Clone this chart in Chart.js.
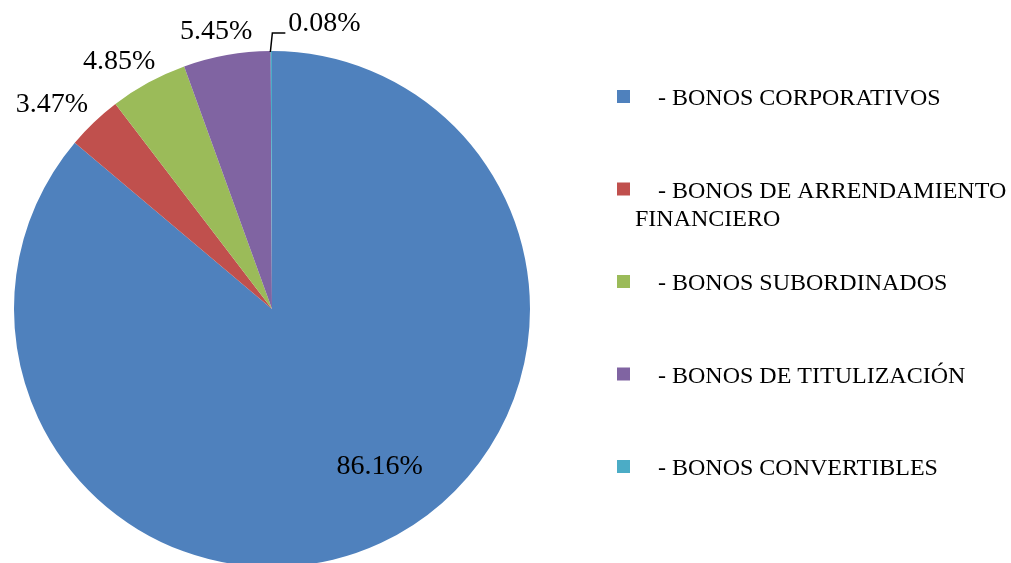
<!DOCTYPE html>
<html lang="es">
<head>
    <meta charset="UTF-8">
    <title>Bonos</title>
    <style>
        html, body { margin: 0; padding: 0; background: #fff; overflow: hidden; }
        #wrap { width: 1011px; height: 563px; overflow: hidden; }
    </style>
</head>
<body>
    <div id="wrap">
        <canvas id="myChart" width="1011" height="580"></canvas>
    </div>
    <script src="https://cdn.jsdelivr.net/npm/chart.js@4/dist/chart.umd.min.js"></script>
    <script>

        // datos (porcentaje de cada tipo de bono)
        const categories = [
            '- BONOS CORPORATIVOS',
            '- BONOS DE ARRENDAMIENTO FINANCIERO',
            '- BONOS SUBORDINADOS',
            '- BONOS DE TITULIZACIÓN',
            '- BONOS CONVERTIBLES'
        ];
        const values = [86.16, 3.47, 4.85, 5.45, 0.08];
        const colors = ['#4F81BD', '#C0504D', '#9BBB59', '#8064A2', '#4BACC6'];

        const SERIF = '"Liberation Serif", "Times New Roman", serif';

        // etiquetas de porcentaje
        const pieLabels = {
            id: 'pieLabels',
            afterDatasetsDraw(chart) {
                const ctx = chart.ctx;
                const meta = chart.getDatasetMeta(0);
                const total = values.reduce((a, b) => a + b, 0);
                ctx.save();
                ctx.font = '28px ' + SERIF;
                ctx.fillStyle = '#000';
                ctx.strokeStyle = '#000';
                ctx.lineWidth = 1.5;
                meta.data.forEach((arc, i) => {
                    const txt = values[i].toFixed(2) + '%';
                    const frac = values[i] / total;
                    const r = arc.outerRadius;
                    let mid = (arc.startAngle + arc.endAngle) / 2;
                    const w = ctx.measureText(txt).width;
                    if (frac > 0.5) {
                        mid -= 9.4 * Math.PI / 180;
                        ctx.textAlign = 'center';
                        ctx.textBaseline = 'middle';
                        ctx.fillText(txt, arc.x + Math.cos(mid) * r * 0.74, arc.y + Math.sin(mid) * r * 0.74);
                    } else if (frac < 0.01) {
                        // linea guia para el sector muy pequeno
                        const px = arc.x + Math.cos(mid) * r;
                        const py = arc.y + Math.sin(mid) * r;
                        ctx.beginPath();
                        ctx.moveTo(px - 1, py + 1);
                        ctx.lineTo(px + 1, py - 18);
                        ctx.lineTo(px + 14, py - 18);
                        ctx.stroke();
                        ctx.textAlign = 'left';
                        ctx.textBaseline = 'middle';
                        ctx.fillText(txt, px + 17, py - 27);
                    } else {
                        const dx = Math.cos(mid), dy = Math.sin(mid);
                        const gx = arc.x + dx * (r + 12);
                        const gy = arc.y + dy * (r + 12);
                        ctx.textAlign = 'center';
                        ctx.textBaseline = 'middle';
                        ctx.fillText(txt, gx + dx * w * 0.68, gy + dy * 12);
                    }
                });
                ctx.restore();
            }
        };

        // leyenda a la derecha
        const sideLegend = {
            id: 'sideLegend',
            afterDraw(chart) {
                const ctx = chart.ctx;
                ctx.save();
                ctx.font = '24px ' + SERIF;
                ctx.fillStyle = '#000';
                ctx.textAlign = 'left';
                ctx.textBaseline = 'alphabetic';
                categories.forEach((name, i) => {
                    const top = 90 + i * 92.5;
                    ctx.fillStyle = colors[i];
                    ctx.fillRect(617, top, 13, 13);
                    ctx.fillStyle = '#000';
                    // ajuste de lineas
                    const words = name.split(' ');
                    let line = '';
                    let x = 658;
                    let y = top + 15;
                    words.forEach(wd => {
                        const test = line ? line + ' ' + wd : wd;
                        if (line && x + ctx.measureText(test).width > 1008) {
                            ctx.fillText(line, x, y);
                            line = wd;
                            x = 635;
                            y += 28;
                        } else {
                            line = test;
                        }
                    });
                    ctx.fillText(line, x, y);
                });
                ctx.restore();
            }
        };

        const ctx = document.getElementById('myChart').getContext('2d');
        const myChart = new Chart(ctx,
        {
            type: 'pie',
            data:
            {
                labels: categories,
                datasets:
                [{
                    data: values,
                    backgroundColor: colors,
                    borderWidth: 0
                }]
            },
            options:
            {
                responsive: false,
                animation: false,
                layout: { padding: { left: 14, top: 51, right: 481, bottom: 13 } },
                plugins:
                {
                    legend: { display: false },
                    tooltip: { enabled: false }
                }
            },
            plugins: [pieLabels, sideLegend]
        });
    </script>
</body>
</html>
